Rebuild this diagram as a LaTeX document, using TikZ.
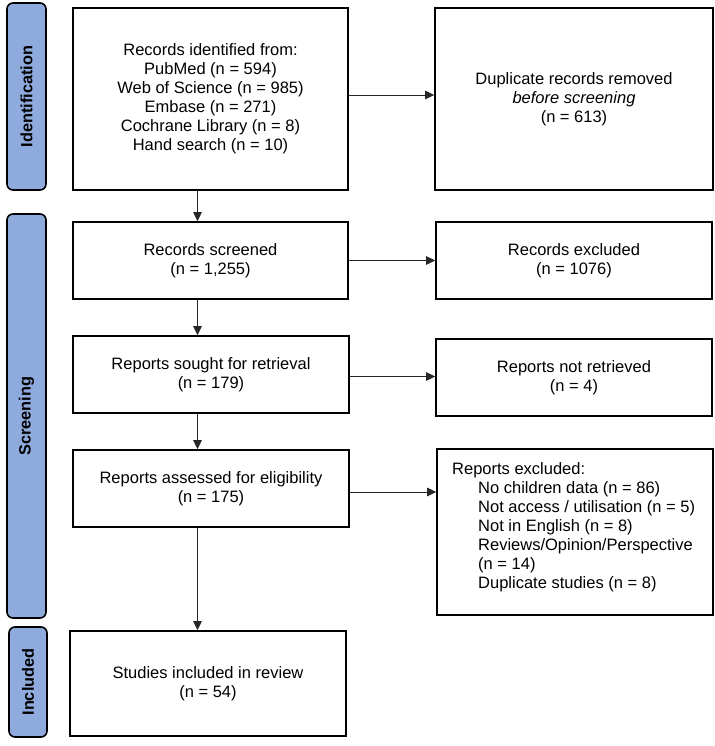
\documentclass[tikz,border=0pt]{standalone}
\usepackage{fontspec}
\setmainfont{Liberation Sans}
\usetikzlibrary{arrows.meta,calc}
\definecolor{sidefill}{HTML}{8FAADC}
\begin{document}
\begin{tikzpicture}[x=1pt,y=-1pt,
  box/.style={draw=black,line width=1.6pt,rectangle,inner sep=0pt,align=center,
    font=\fontsize{16.5}{19}\selectfont},
  side/.style={draw=black,line width=1.6pt,rounded corners=6pt,fill=sidefill,inner sep=0pt},
  sidelabel/.style={rotate=90,inner sep=0pt,font=\fontsize{16.3}{19}\selectfont\bfseries},
  arr/.style={line width=0.8pt,draw=black!85,-{Triangle[length=9pt,width=8.5pt]}}]
\useasboundingbox (0,0) rectangle (714,746);

% sidebars
\node[side,minimum width=39pt,minimum height=187pt] (sid) at (26.5,96.5) {};
\node[sidelabel] (sidt) at (sid.center) {Identification};
\node[side,minimum width=39pt,minimum height=404pt] (sscr) at (26.5,416) {};
\node[sidelabel] (sscrt) at (sscr.center) {Screening};
\node[side,minimum width=38pt,minimum height=110pt] (sinc) at (28,682) {};
\node[sidelabel] (sinct) at (sinc.center) {Included};

% boxes
\node[box,minimum width=275pt,minimum height=182pt] (b1) at (210.5,99)
  {Records identified from:\\PubMed (n = 594)\\Web of Science (n = 985)\\Embase (n = 271)\\Cochrane Library (n = 8)\\Hand search (n = 10)};
\node[box,minimum width=278pt,minimum height=182pt] (dup) at (574,99)
  {Duplicate records removed\\\textit{before screening}\\(n = 613)};
\node[box,minimum width=275pt,minimum height=77pt] (scr) at (210.5,260.5)
  {Records screened\\(n = 1,255)};
\node[box,minimum width=276pt,minimum height=77pt] (rex) at (574,260.5)
  {Records excluded\\(n = 1076)};
\node[box,minimum width=276pt,minimum height=77pt] (sought) at (211,374.5)
  {Reports sought for retrieval\\(n = 179)};
\node[box,minimum width=276pt,minimum height=77pt] (notret) at (574,377.5)
  {Reports not retrieved\\(n = 4)};
\node[box,minimum width=276pt,minimum height=77pt] (assess) at (211,488.5)
  {Reports assessed for eligibility\\(n = 175)};
\node[box,minimum width=276pt,minimum height=166pt] (repex) at (575,532) {};
\node[anchor=north west,inner sep=0pt,align=left,font=\fontsize{16.5}{19}\selectfont] (repext) at (452,462)
  {Reports excluded:\\
   \hspace*{26pt}No children data (n = 86)\\
   \hspace*{26pt}Not access / utilisation (n = 5)\\
   \hspace*{26pt}Not in English (n = 8)\\
   \hspace*{26pt}Reviews/Opinion/Perspective\\
   \hspace*{26pt}(n = 14)\\
   \hspace*{26pt}Duplicate studies (n = 8)};
\node[box,minimum width=276pt,minimum height=105pt] (incl) at (208,683.5)
  {Studies included in review\\(n = 54)};

% column for vertical arrows
\coordinate (col) at (197.5,0);

% vertical arrows
\draw[arr] (b1.south -| col) -- (scr.north -| col);
\draw[arr] (scr.south -| col) -- (sought.north -| col);
\draw[arr] (sought.south -| col) -- (assess.north -| col);
\draw[arr] (assess.south -| col) -- (incl.north -| col);

% horizontal arrows
\draw[arr] ([yshift=4pt]b1.east) -- ([yshift=4pt]b1.east -| dup.west);
\draw[arr] (scr.east) -- (scr.east -| rex.west);
\draw[arr] ([yshift=-2pt]sought.east) -- ([yshift=-2pt]sought.east -| notret.west);
\draw[arr] ([yshift=-3.5pt]assess.east) -- ([yshift=-3.5pt]assess.east -| repex.west);
\end{tikzpicture}
\end{document}
